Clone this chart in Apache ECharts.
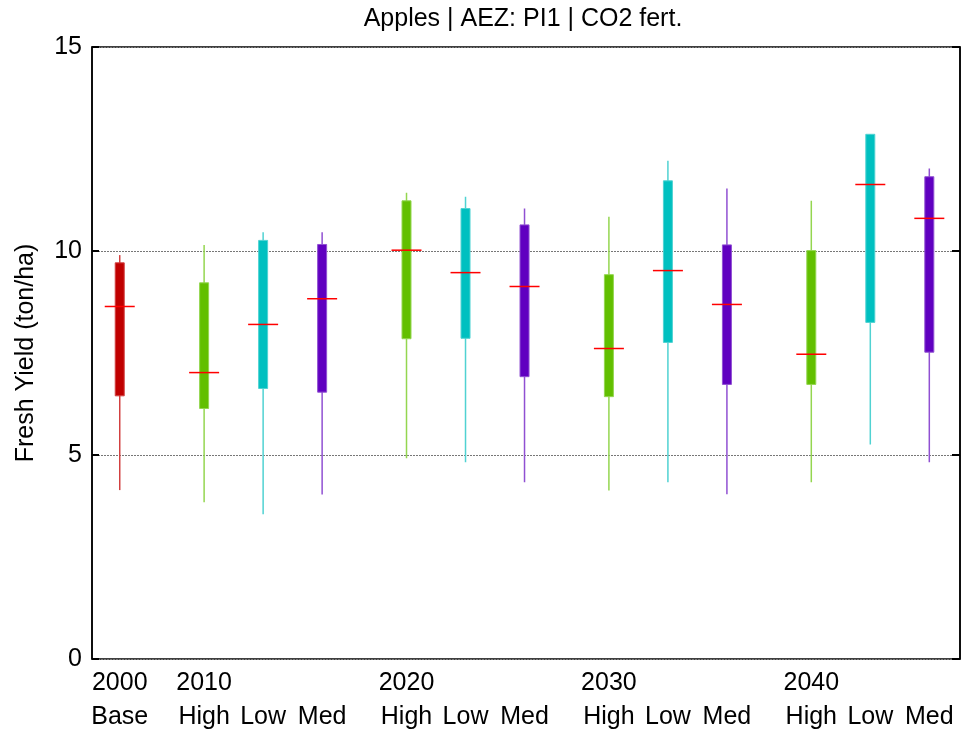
<!DOCTYPE html>
<html>
<head>
<meta charset="utf-8">
<title>Apples | AEZ: PI1 | CO2 fert.</title>
<script src="https://cdn.jsdelivr.net/npm/echarts@6/dist/echarts.min.js"></script>
<style>
  html, body { margin: 0; padding: 0; background: #fff; }
  #chart { width: 968px; height: 736px; }
</style>
</head>
<body>
<div id="chart"></div>
<script>
// Yield distributions per period and scenario (ton/ha)
const boxYears     = ['2000', '2010', '2010', '2010', '2020', '2020', '2020', '2030', '2030', '2030', '2040', '2040', '2040'];
const boxScenarios = ['Base', 'High', 'Low', 'Med', 'High', 'Low', 'Med', 'High', 'Low', 'Med', 'High', 'Low', 'Med'];
const whiskerLow   = [4.14, 3.84, 3.55, 4.03, 4.92, 4.82, 4.33, 4.13, 4.33, 4.04, 4.33, 5.26, 4.82];
const quartile1    = [6.45, 6.14, 6.63, 6.54, 7.85, 7.86, 6.92, 6.43, 7.76, 6.73, 6.73, 8.25, 7.52];
const medians      = [8.64, 7.02, 8.20, 8.83, 10.02, 9.47, 9.13, 7.61, 9.52, 8.69, 7.47, 11.63, 10.80];
const quartile3    = [9.71, 9.22, 10.26, 10.16, 11.23, 11.04, 10.64, 9.42, 11.72, 10.15, 10.01, 12.86, 11.82];
const whiskerHigh  = [9.90, 10.15, 10.46, 10.46, 11.43, 11.33, 11.04, 10.84, 12.21, 11.53, 11.23, 12.86, 12.02];
const yTicks       = [0, 5, 10, 15];

// Scenario colours
const scenarioColors = {
  Base: { fill: '#c00000', edge: '#d24040' },
  High: { fill: '#62bf00', edge: '#94d650' },
  Low:  { fill: '#00c0c0', edge: '#50d2d2' },
  Med:  { fill: '#6000c0', edge: '#9050d2' }
};

// Slot layout: one step between boxes of a period, a wider step between periods
const GROUP_GAP = 1.43;
const periods = [];
boxYears.forEach(y => { if (!periods.includes(y)) periods.push(y); });
const slots = [];
(function () {
  let pos = 0, prevYear = null;
  boxYears.forEach((y, i) => {
    if (i > 0) pos += (y === prevYear) ? 1 : GROUP_GAP;
    slots.push(+pos.toFixed(3));
    prevYear = y;
  });
})();
const periodSlots = periods.map(p => slots[boxYears.indexOf(p)]);

function nearestIndex(list, v) {
  let best = 0;
  list.forEach((s, i) => { if (Math.abs(s - v) < Math.abs(list[best] - v)) best = i; });
  return best;
}

const seriesData = slots.map((s, i) => [s, whiskerLow[i], quartile1[i], medians[i], quartile3[i], whiskerHigh[i], i]);

const FONT = 'Liberation Sans, Arial, sans-serif';
const FONT_SIZE = 25;
const xMin = -0.47, xMax = 14.24;

function renderBox(params, api) {
  const i = api.value(6);
  const x = api.value(0);
  const c = scenarioColors[boxScenarios[i]];
  const pLow = api.coord([x, api.value(1)]);
  const pQ1 = api.coord([x, api.value(2)]);
  const pMed = api.coord([x, api.value(3)]);
  const pQ3 = api.coord([x, api.value(4)]);
  const pHigh = api.coord([x, api.value(5)]);
  const boxW = 9;
  const medHalf = 15;
  return {
    type: 'group',
    children: [
      {
        type: 'line',
        shape: { x1: pLow[0], y1: pLow[1], x2: pHigh[0], y2: pHigh[1] },
        style: { stroke: c.edge, lineWidth: 1.5 }
      },
      {
        type: 'rect',
        shape: { x: pQ3[0] - boxW / 2, y: pQ3[1], width: boxW, height: pQ1[1] - pQ3[1] },
        style: { fill: c.fill, stroke: c.edge, lineWidth: 1 }
      },
      {
        type: 'line',
        shape: { x1: pMed[0] - medHalf, y1: pMed[1], x2: pMed[0] + medHalf, y2: pMed[1] },
        style: { stroke: '#ff0000', lineWidth: 1.5 }
      }
    ]
  };
}

const chart = echarts.init(document.getElementById('chart'), null, { renderer: 'canvas' });
chart.setOption({
  animation: false,
  backgroundColor: '#ffffff',
  title: {
    text: 'Apples | AEZ: PI1 | CO2 fert.',
    left: 518,
    top: 2,
    textAlign: 'center',
    textStyle: { fontFamily: FONT, fontSize: FONT_SIZE, fontWeight: 'normal', color: '#000' }
  },
  grid: {
    left: 92, right: 8, top: 47, bottom: 77,
    show: true, borderColor: '#000', borderWidth: 1.5, backgroundColor: 'transparent'
  },
  xAxis: [
    {
      type: 'value', min: xMin, max: xMax, position: 'bottom',
      axisLine: { show: false, onZero: false },
      axisTick: { show: false },
      splitLine: { show: false },
      axisLabel: {
        customValues: periodSlots,
        formatter: v => periods[nearestIndex(periodSlots, v)],
        fontFamily: FONT, fontSize: FONT_SIZE, color: '#000', margin: 12
      }
    },
    {
      type: 'value', min: xMin, max: xMax, position: 'bottom', offset: 34,
      axisLine: { show: false, onZero: false },
      axisTick: { show: false },
      splitLine: { show: false },
      axisLabel: {
        customValues: slots,
        formatter: v => boxScenarios[nearestIndex(slots, v)],
        fontFamily: FONT, fontSize: FONT_SIZE, color: '#000', margin: 12
      }
    }
  ],
  yAxis: [
    {
      type: 'value', min: 0, max: 15, interval: 5, position: 'left',
      name: 'Fresh Yield (ton/ha)', nameLocation: 'middle', nameGap: 53,
      nameTextStyle: { fontFamily: FONT, fontSize: FONT_SIZE, color: '#000' },
      axisLine: { show: true, onZero: false, lineStyle: { color: '#000', width: 1.5 } },
      axisTick: { show: true, inside: true, length: 7, lineStyle: { color: '#000', width: 2 } },
      axisLabel: {
        customValues: yTicks,
        fontFamily: FONT, fontSize: FONT_SIZE, color: '#000', margin: 10
      },
      splitLine: { show: true, lineStyle: { color: '#777', type: [2, 1], width: 1 } }
    },
    {
      type: 'value', min: 0, max: 15, interval: 5, position: 'right',
      axisLine: { show: true, onZero: false, lineStyle: { color: '#000', width: 1.5 } },
      axisTick: { show: true, inside: true, length: 8, lineStyle: { color: '#000', width: 2 } },
      axisLabel: { show: false },
      splitLine: { show: false }
    }
  ],
  series: [
    {
      type: 'custom',
      xAxisIndex: 0,
      yAxisIndex: 0,
      renderItem: renderBox,
      encode: { x: 0, y: [1, 2, 3, 4, 5] },
      data: seriesData,
      z: 5
    }
  ]
});
</script>
</body>
</html>
